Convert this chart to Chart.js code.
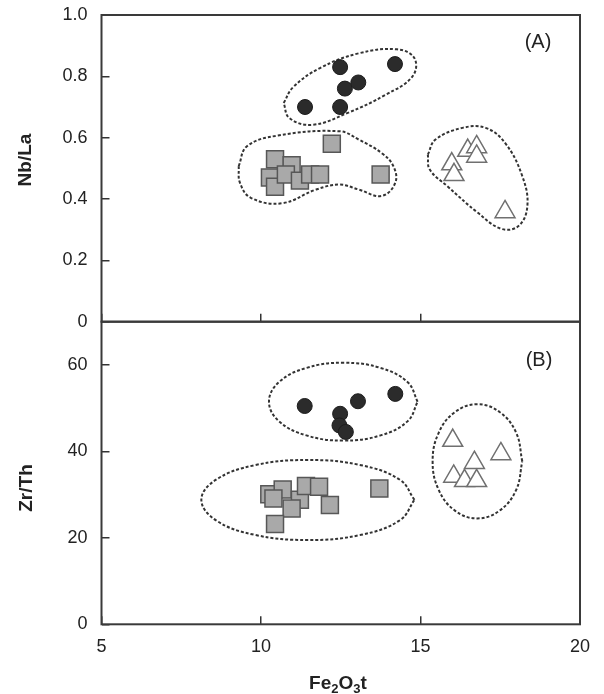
<!DOCTYPE html>
<html>
<head>
<meta charset="utf-8">
<script src="https://cdn.jsdelivr.net/npm/chart.js@4.4.0/dist/chart.umd.min.js"></script>
<style>
  body { margin: 0; background: #fff; }
  #wrap { position: relative; width: 604px; height: 694px; font-family: "Liberation Sans", Arial, sans-serif; color: #222; }
  canvas { position: absolute; left: 0; }
  #chartA { top: 0; }
  #chartB { top: 300px; }
  .lbl { position: absolute; white-space: nowrap; transform: translate(-50%, -50%); line-height: 1; }
  .ttl { font-weight: bold; font-size: 19px; }
  .ttl.rot { transform: translate(-50%, -50%) rotate(-90deg); }
  .panel { font-size: 20px; }
  sub { font-size: 13px; vertical-align: -4px; line-height: 0; }
</style>
</head>
<body>
<div id="wrap">
  <canvas id="chartA" width="604" height="360"></canvas>
  <canvas id="chartB" width="604" height="394"></canvas>
  <div class="lbl panel" style="left:538px; top:41px;">(A)</div>
  <div class="lbl panel" style="left:539px; top:359px;">(B)</div>
  <div class="lbl ttl rot" style="left:24px; top:160px;">Nb/La</div>
  <div class="lbl ttl rot" style="left:25px; top:488px;">Zr/Th</div>
  <div class="lbl ttl" style="left:338px; top:682px;">Fe<sub>2</sub>O<sub>3</sub>t</div>
</div>
<script>
// x ticks shared by both panels
const feTicks = [5, 10, 15, 20];

// panel A: Nb/La against Fe2O3t
const circleA = [[11.38, 0.70], [12.48, 0.70], [12.48, 0.83], [12.63, 0.76], [13.05, 0.78], [14.20, 0.84]];
const squareA = [[12.22, 0.58], [10.44, 0.53], [10.96, 0.51], [10.28, 0.47], [10.44, 0.44],
                 [10.78, 0.48], [11.22, 0.46], [11.54, 0.48], [11.85, 0.48], [13.75, 0.48]];
const triangleA = [[15.98, 0.514], [16.05, 0.479], [16.48, 0.558], [16.76, 0.570], [16.76, 0.539], [17.65, 0.358]];

// hand drawn envelopes, panel A
const envCircleA = [[10.71, 0.713], [11.01, 0.765], [11.85, 0.827], [13.06, 0.875], [14.27, 0.888], [14.81, 0.859],
                    [14.75, 0.80], [13.91, 0.74], [12.70, 0.68], [11.61, 0.642], [10.89, 0.664], [10.71, 0.713]];
const envSquareA = [[9.30, 0.507], [9.56, 0.572], [10.53, 0.607], [12.46, 0.621], [13.06, 0.594], [13.78, 0.550],
                    [14.15, 0.507], [14.21, 0.453], [13.78, 0.41], [13.06, 0.431], [12.46, 0.447], [11.73, 0.431],
                    [10.65, 0.386], [9.68, 0.404], [9.34, 0.453], [9.30, 0.507]];
const envTriangleA = [[15.23, 0.545], [15.47, 0.594], [16.32, 0.632], [17.04, 0.632], [17.65, 0.583], [18.19, 0.475],
                      [18.35, 0.377], [18.07, 0.312], [17.53, 0.303], [16.80, 0.355], [15.84, 0.442], [15.29, 0.496],
                      [15.23, 0.545]];

// panel B: Zr/Th against Fe2O3t
const circleB = [[11.37, 50.5], [12.48, 48.7], [12.46, 46.0], [12.66, 44.5], [13.04, 51.6], [14.21, 53.3]];
const squareB = [[10.26, 30.1], [10.68, 31.2], [10.39, 29.1], [11.22, 28.8], [10.96, 26.8],
                 [11.41, 32.0], [11.82, 31.8], [12.16, 27.6], [10.44, 23.2], [13.71, 31.4]];
const triangleB = [[16.01, 42.5], [17.52, 39.4], [16.69, 37.4], [16.04, 34.2], [16.38, 33.2], [16.76, 33.2]];

const envCircleB = [[14.91, 51.5], [14.60, 56.0], [13.75, 59.3], [12.58, 60.5], [11.42, 59.3], [10.56, 56.0],
                    [10.25, 51.5], [10.56, 47.0], [11.42, 43.7], [12.58, 42.5], [13.75, 43.7], [14.60, 47.0], [14.91, 51.5]];
const envSquareB = [[14.81, 28.8], [14.36, 33.4], [13.14, 36.8], [11.47, 38.0], [9.80, 36.8], [8.58, 33.4],
                    [8.13, 28.8], [8.58, 24.1], [9.80, 20.7], [11.47, 19.5], [13.14, 20.7], [14.36, 24.1], [14.81, 28.8]];
const envTriangleB = [[18.19, 37.7], [18.00, 44.3], [17.48, 49.1], [16.78, 50.9], [16.08, 49.1], [15.57, 44.3],
                      [15.38, 37.7], [15.57, 31.1], [16.08, 26.3], [16.78, 24.5], [17.48, 26.3], [18.00, 31.1], [18.19, 37.7]];

const FONT = "'Liberation Sans', Arial, sans-serif";

const toPts = arr => arr.map(p => ({x: p[0], y: p[1]}));

function markerSets(circles, squares, triangles) {
    return [
        { data: toPts(circles), pointStyle: 'circle', pointRadius: 7.5,
          backgroundColor: '#2b2b2b', borderColor: '#1c1c1c', borderWidth: 1, order: 1 },
        { data: toPts(squares), pointStyle: 'rect', pointRadius: 12,
          backgroundColor: '#a9a9a9', borderColor: '#575757', borderWidth: 1.5, order: 1 },
        { data: toPts(triangles), pointStyle: 'triangle', pointRadius: 11.5,
          backgroundColor: '#ffffff', borderColor: '#707070', borderWidth: 1.5, order: 1 }
    ];
}

function envelope(arr) {
    return { data: toPts(arr), showLine: true, pointRadius: 0, borderColor: '#333',
             borderWidth: 2, borderDash: [3, 2], tension: 0.4, fill: false, order: 2 };
}

const frame = {
    id: 'frame',
    afterDatasetsDraw(chart) {
        const {ctx, chartArea: a} = chart;
        ctx.save();
        ctx.strokeStyle = '#3a3a3a';
        ctx.lineWidth = 2;
        ctx.strokeRect(a.left, a.top, a.right - a.left, a.bottom - a.top);
        ctx.restore();
    }
};

const grid = { drawOnChartArea: false, tickLength: -8, color: '#333', lineWidth: 1.5 };
const tickFont = { family: FONT, size: 18 };

function xScale(showLabels, height) {
    return {
        type: 'linear', min: 5, max: 20,
        afterBuildTicks: s => { s.ticks = feTicks.map(v => ({value: v})); },
        ticks: { display: showLabels, font: tickFont, color: '#222', padding: 20, maxRotation: 0 },
        grid: grid, border: { display: false },
        afterFit: s => { s.height = height; s.paddingLeft = 0; s.paddingRight = 0; }
    };
}

function makeChart(id, datasets, yOpts, xHeight, padTop) {
    return new Chart(document.getElementById(id).getContext('2d'), {
        type: 'scatter',
        data: { datasets: datasets },
        options: {
            responsive: false,
            animation: false,
            layout: { autoPadding: false, padding: { top: padTop, right: 24, left: 0, bottom: 0 } },
            plugins: { legend: { display: false }, tooltip: { enabled: false } },
            scales: {
                x: xScale(id === 'chartB', xHeight),
                y: Object.assign({
                    grid: grid, border: { display: false },
                    afterFit: s => { s.width = 101.5; s.paddingTop = 0; s.paddingBottom = 0; }
                }, yOpts)
            }
        },
        plugins: [frame]
    });
}

// nudge the layout padding until the plot box sits where the panel is
function pinArea(chart, top, bottom) {
    for (let i = 0; i < 4; i++) {
        const a = chart.chartArea;
        const p = chart.options.layout.padding;
        chart.options.layout.padding = {
            top: p.top + (top - a.top), right: p.right, left: p.left,
            bottom: p.bottom + (a.bottom - bottom)
        };
        chart.update();
    }
}

const chartA = makeChart('chartA',
    markerSets(circleA, squareA, triangleA).concat([envelope(envCircleA), envelope(envSquareA), envelope(envTriangleA)]),
    { min: 0, max: 1,
      ticks: { stepSize: 0.2, font: tickFont, color: '#222', padding: 22,
               callback: v => v === 0 ? '0' : v.toFixed(1) } },
    18.3, 15);

const chartB = makeChart('chartB',
    markerSets(circleB, squareB, triangleB).concat([envelope(envCircleB), envelope(envSquareB), envelope(envTriangleB)]),
    { min: 0, max: 70,
      ticks: { stepSize: 20, includeBounds: false, font: tickFont, color: '#222', padding: 22 } },
    69.7, 21.7);

pinArea(chartA, 15, 321.7);
pinArea(chartB, 21.7, 324.3);
</script>
</body>
</html>
